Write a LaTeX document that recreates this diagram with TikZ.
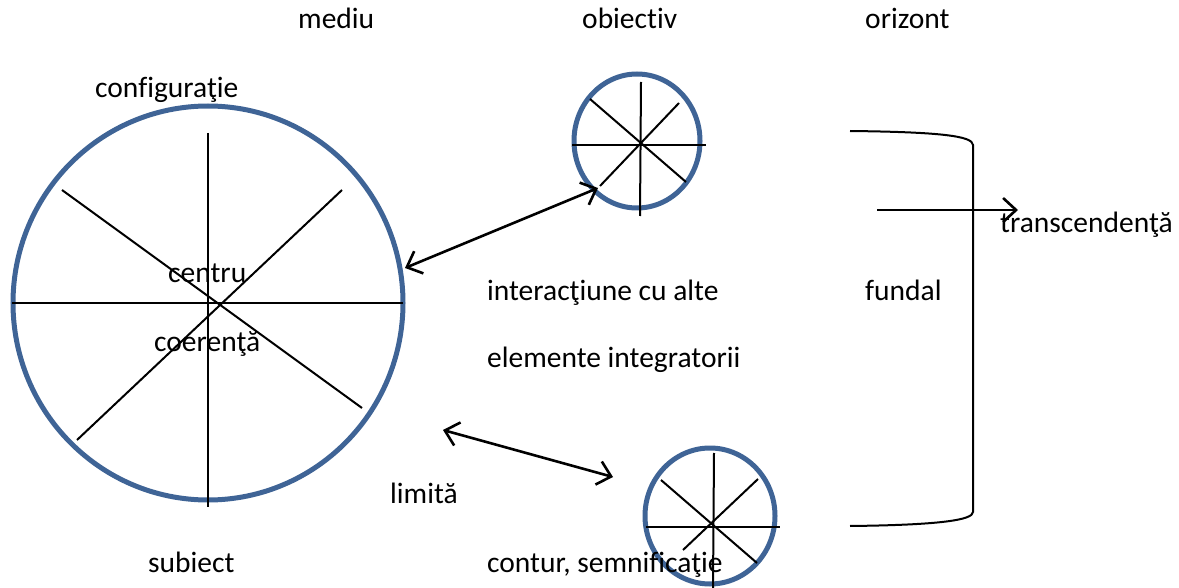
\documentclass[tikz,border=0pt]{standalone}
\usepackage{fontspec}
\setmainfont[Ligatures=NoCommon]{Carlito}
\usetikzlibrary{arrows.meta,shapes.geometric}
\definecolor{ringblue}{HTML}{3F6496}
\tikzset{
  barb/.style={Straight Barb[length=13pt,width=24pt,line width=2.6pt]},
  ring/.style={draw=ringblue,line width=5pt},
  spoke/.style={draw=black,line width=2pt},
  link/.style={draw=black,line width=2.6pt,{Straight Barb[length=13pt,width=24pt,line width=2.6pt]}-{Straight Barb[length=13pt,width=24pt,line width=2.6pt]}},
  oneway/.style={draw=black,line width=2.6pt,-{Straight Barb[length=13pt,width=24pt,line width=2.6pt]}},
  bracketline/.style={draw=black,line width=2pt},
  lbl/.style={font=\fontsize{29.5}{32}\selectfont,inner sep=0pt,anchor=base west}
}
\begin{document}
\begin{tikzpicture}[x=1pt,y=-1pt]
\useasboundingbox (0,0) rectangle (1179,588);
% big circle
\node[ring,ellipse,minimum width=390pt,minimum height=394pt,inner sep=0pt] (big) at (208,303) {};
\draw[spoke] (208,133) -- (208,507);
\draw[spoke] (12,303) -- (403,303);
\draw[spoke] (62,190) -- (362,408);
\draw[spoke] (77,440) -- (342,190);
% top small circle
\node[ring,ellipse,minimum width=126pt,minimum height=134pt,inner sep=0pt] (top) at (637,141) {};
\draw[spoke] (641,82) -- (640,216);
\draw[spoke] (572,145) -- (706,145);
\draw[spoke] (590,99) -- (686,182);
\draw[spoke] (679,103) -- (600,186);
% bottom small circle
\node[ring,ellipse,minimum width=130pt,minimum height=136pt,inner sep=0pt] (bot) at (710,516) {};
\draw[spoke] (714,453) -- (713,588);
\draw[spoke] (646,527) -- (780,527);
\draw[spoke] (661,480) -- (757,563);
\draw[spoke] (758,479) -- (683,550);
% arrows
\coordinate (a1) at (405,268);
\coordinate (a2) at (598,188);
\draw[link] (a1) -- (a2);
\coordinate (b1) at (443,430);
\coordinate (b2) at (613,477);
\draw[link] (b1) -- (b2);
% bracket
\draw[bracketline] (850,131) .. controls (940,132) and (973,136) .. (973,145) -- (973,512) .. controls (973,520) and (940,525) .. (850,526);
\coordinate (t1) at (877,210);
\coordinate (t2) at (1018,210);
\draw[oneway] (t1) -- (t2);
% labels
\node[lbl] (mediu) at (298,29) {mediu};
\node[lbl] (obiectiv) at (582,29) {obiectiv};
\node[lbl] (orizont) at (865,29) {orizont};
\node[lbl] (config) at (95,98) {configuraţie};
\node[lbl] (centru) at (168,283) {centru};
\node[lbl] (coer) at (154,352) {coerenţă};
\node[lbl] (inter) at (487,301) {interacţiune cu alte};
\node[lbl] (elem) at (487,367) {elemente integratorii};
\node[lbl] (fundal) at (865,301) {fundal};
\node[lbl] (transc) at (1000,233) {transcendenţă};
\node[lbl] (limita) at (390,503) {limită};
\node[lbl] (subiect) at (148,572) {subiect};
\node[lbl] (contur) at (487,572) {contur, semnificaţie};
\end{tikzpicture}
\end{document}
